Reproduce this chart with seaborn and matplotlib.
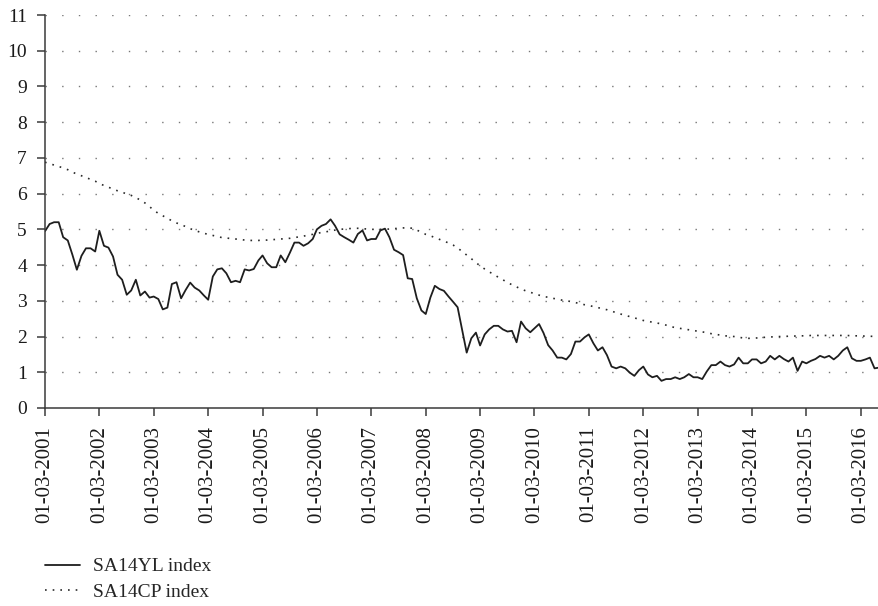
import matplotlib
matplotlib.use("Agg")
import matplotlib.pyplot as plt
import seaborn as sns
import pandas as pd
import numpy as np

# ---------------- data ----------------
start_date = "2001-03-01"
sa14yl = [
    4.95, 5.15, 5.2, 5.2, 4.78, 4.69, 4.29, 3.87, 4.26, 4.47,
    4.47, 4.38, 4.96, 4.54, 4.49, 4.24, 3.73, 3.59, 3.17, 3.29,
    3.59, 3.15, 3.26, 3.09, 3.12, 3.05, 2.76, 2.81, 3.47, 3.52,
    3.07, 3.3, 3.51, 3.37, 3.29, 3.15, 3.03, 3.68, 3.88, 3.91,
    3.77, 3.52, 3.56, 3.52, 3.88, 3.85, 3.89, 4.13, 4.27, 4.05,
    3.94, 3.94, 4.27, 4.08, 4.35, 4.63, 4.63, 4.54, 4.61, 4.73,
    5.0, 5.1, 5.15, 5.28, 5.1, 4.86, 4.78, 4.71, 4.63, 4.87,
    4.97, 4.69, 4.73, 4.73, 4.97, 5.02, 4.78, 4.43, 4.36, 4.28,
    3.63, 3.61, 3.07, 2.73, 2.63, 3.09, 3.42, 3.33, 3.28, 3.12,
    2.97, 2.82, 2.18, 1.55, 1.95, 2.11, 1.75, 2.06, 2.2, 2.3,
    2.3, 2.2, 2.14, 2.16, 1.84, 2.42, 2.23, 2.12, 2.23, 2.35,
    2.1, 1.76, 1.61, 1.41, 1.41, 1.36, 1.51, 1.86, 1.86, 1.98,
    2.06, 1.81, 1.61, 1.7, 1.48, 1.16, 1.11, 1.16, 1.11, 0.99,
    0.9, 1.06, 1.16, 0.94, 0.86, 0.9, 0.76, 0.81, 0.81, 0.86,
    0.81, 0.86, 0.95, 0.86, 0.86, 0.81, 1.02, 1.2, 1.2, 1.3,
    1.2, 1.16, 1.22, 1.41, 1.25, 1.25, 1.36, 1.36, 1.25, 1.3,
    1.46, 1.36, 1.46, 1.37, 1.3, 1.41, 1.04, 1.3, 1.25, 1.32,
    1.37, 1.46, 1.41, 1.46, 1.36, 1.46, 1.61, 1.7, 1.39, 1.32,
    1.32, 1.36, 1.41, 1.11, 1.13,
]
sa14cp = [
    6.88, 6.84, 6.80, 6.76, 6.72, 6.67, 6.60, 6.55, 6.50, 6.45,
    6.40, 6.35, 6.28, 6.23, 6.18, 6.13, 6.08, 6.04, 5.99, 5.95,
    5.89, 5.82, 5.74, 5.64, 5.53, 5.45, 5.38, 5.31, 5.24, 5.18,
    5.13, 5.08, 5.02, 4.97, 4.93, 4.89, 4.86, 4.83, 4.80, 4.77,
    4.76, 4.74, 4.73, 4.72, 4.70, 4.69, 4.69, 4.69, 4.70, 4.70,
    4.71, 4.72, 4.73, 4.74, 4.75, 4.77, 4.79, 4.81, 4.84, 4.86,
    4.89, 4.91, 4.93, 4.96, 4.98, 5.00, 5.01, 5.02, 5.03, 5.03,
    5.02, 5.01, 5.00, 5.00, 5.00, 5.00, 5.01, 5.02, 5.03, 5.04,
    5.05, 5.03, 4.98, 4.92, 4.86, 4.82, 4.77, 4.72, 4.67, 4.62,
    4.56, 4.48, 4.38, 4.28, 4.18, 4.07, 3.98, 3.89, 3.81, 3.74,
    3.66, 3.59, 3.51, 3.45, 3.39, 3.33, 3.28, 3.24, 3.20, 3.16,
    3.12, 3.10, 3.07, 3.05, 3.02, 3.00, 2.98, 2.95, 2.92, 2.89,
    2.87, 2.84, 2.81, 2.78, 2.75, 2.71, 2.67, 2.63, 2.59, 2.56,
    2.52, 2.49, 2.45, 2.43, 2.40, 2.38, 2.35, 2.32, 2.28, 2.25,
    2.23, 2.21, 2.19, 2.17, 2.15, 2.13, 2.11, 2.08, 2.06, 2.04,
    2.02, 2.01, 2.00, 1.98, 1.96, 1.95, 1.95, 1.96, 1.97, 1.98,
    1.99, 1.99, 2.00, 2.00, 2.01, 2.01, 2.02, 2.02, 2.02, 2.03,
    2.03, 2.03, 2.03, 2.03, 2.03, 2.03, 2.03, 2.03, 2.02, 2.02,
    2.02, 2.01, 2.01, 2.00, 2.00,
]
tick_years = list(range(2001, 2017))
tick_labels = [f"01-03-{y}" for y in tick_years]
y_ticks = list(range(0, 12))
series_names = ["SA14YL index", "SA14CP index"]

# ---------------- plot ----------------
sns.set_style("ticks")
plt.rcParams["font.family"] = ["Liberation Serif", "DejaVu Serif"]
plt.rcParams["font.size"] = 14

dates = pd.date_range(start_date, periods=len(sa14yl), freq="MS")
df = pd.DataFrame({"date": dates, "yl": sa14yl, "cp": sa14cp})

fig = plt.figure(figsize=(8.79, 6.06), dpi=100)
ax = fig.add_axes([45 / 879, 1 - 408 / 606, 1 - 45 / 879, (408 - 15) / 606])

sc = "#3a3a3a"
# grid
for v in y_ticks[1:]:
    ax.axhline(v, color="#777777", lw=1.0, ls=(0, (1, 11)), zorder=0)

sns.lineplot(data=df, x="date", y="yl", ax=ax, color="#1e1e1e", lw=1.3,
             label=series_names[0], legend=False)
sns.lineplot(data=df, x="date", y="cp", ax=ax, color="#2a2a2a", lw=1.2,
             ls=(0, (1, 3.6)), label=series_names[1], legend=False)

ax.set_xlim(dates[0], dates[-1])
ax.set_ylim(0, 11)
ax.set_yticks(y_ticks)
ax.set_xticks(pd.to_datetime([f"{y}-03-01" for y in tick_years]))
ax.set_xticklabels(tick_labels, rotation=90)
ax.set_xlabel("")
ax.set_ylabel("")
ax.grid(False)

for s in ["top", "right"]:
    ax.spines[s].set_visible(False)
for s in ["left", "bottom"]:
    ax.spines[s].set_color(sc)
    ax.spines[s].set_linewidth(1.1)
ax.tick_params(axis="both", colors=sc, labelcolor="#1a1a1a", length=6,
               width=1.1, labelsize=14, direction="out", pad=7)
ax.tick_params(axis="x", labelsize=15)

handles, labels = ax.get_legend_handles_labels()
fig.legend(handles, labels, loc="upper left",
           bbox_to_anchor=(37 / 879, 1 - 550 / 606), frameon=False,
           fontsize=14, handlelength=1.8, handletextpad=0.67,
           labelspacing=0.42, borderaxespad=0)

fig.savefig("out.png", dpi=100)
